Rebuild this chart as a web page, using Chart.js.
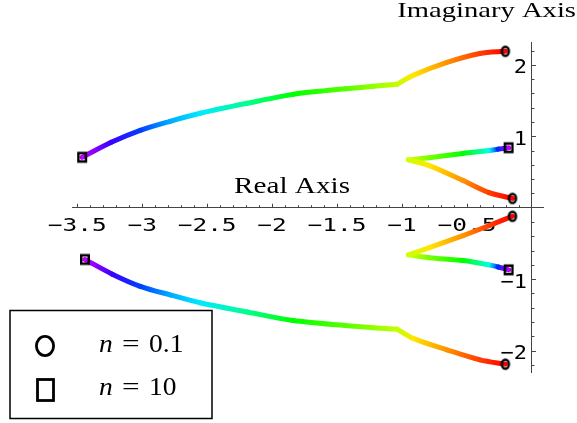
<!DOCTYPE html>
<html>
<head>
<meta charset="utf-8">
<title>Root locus</title>
<style>
  html, body { margin: 0; padding: 0; background: #fff; }
  #wrap { width: 577px; height: 423px; }
</style>
</head>
<body>
<div id="wrap"><canvas id="locus" width="577" height="423"></canvas></div>
<script src="https://cdn.jsdelivr.net/npm/chart.js@4.4.1/dist/chart.umd.min.js"></script>
<script>
// each branch is walked from n = 0.1 (circle) to n = 10 (square)
// k = position along the gain sweep (0 at n = 0.1, 1 at n = 10), used for the hue
const outerUpRe  = [-0.205, -0.40, -0.654, -0.915, -1.038, -1.223, -1.438, -1.838, -2.192, -2.554, -2.785, -3.015, -3.238, -3.462]
const outerUpIm  = [2.19, 2.16, 2.035, 1.853, 1.727, 1.699, 1.664, 1.587, 1.462, 1.322, 1.210, 1.084, 0.916, 0.706]
const outerLowRe = [-0.205, -0.40, -0.654, -0.915, -1.038, -1.223, -1.438, -1.838, -2.192, -2.554, -2.785, -3.015, -3.230, -3.440]
const outerLowIm = [-2.19, -2.13, -1.99, -1.83, -1.70, -1.68, -1.65, -1.58, -1.46, -1.33, -1.22, -1.10, -0.93, -0.725]
const outerK     = [0, 0.05, 0.12, 0.19, 0.26, 0.30, 0.35, 0.42, 0.54, 0.65, 0.70, 0.79, 0.89, 1]
const outerKink  = 4

const innerUpRe  = [-0.15, -0.33, -0.53, -0.79, -0.95, -0.79, -0.53, -0.33, -0.26, -0.18]
const innerUpIm  = [0.13, 0.21, 0.38, 0.59, 0.67, 0.70, 0.76, 0.80, 0.82, 0.84]
const innerLowRe = [-0.15, -0.33, -0.53, -0.79, -0.95, -0.79, -0.53, -0.33, -0.26, -0.18]
const innerLowIm = [-0.12, -0.25, -0.39, -0.56, -0.66, -0.70, -0.74, -0.80, -0.83, -0.87]
const innerK     = [0, 0.05, 0.12, 0.19, 0.25, 0.32, 0.42, 0.61, 0.81, 1]
const innerCusp  = 4

const xTickLabels = [-3.5, -3, -2.5, -2, -1.5, -1, -0.5]
const yTickLabels = [-2, -1, 1, 2]
const legendLabels = ['0.1', '10']

const hueOf = k => 'hsl(' + (285 * k) + ',100%,50%)'
const minus = v => (v < 0 ? '\u2212' : '') + Math.abs(v)

function pts(re, im, from, to) {
  let out = []
  for (let i = from; i <= to; i++) out.push({x: re[i], y: im[i]})
  return out
}

function piece(re, im, ks, from, to) {
  let kk = ks.slice(from, to + 1)
  return {
    data: pts(re, im, from, to),
    showLine: true,
    pointRadius: 0,
    borderWidth: 5,
    borderCapStyle: 'round',
    borderJoinStyle: 'round',
    tension: 0.3,
    order: 2,
    clip: false,
    segment: {
      borderColor: c => {
        let g = c.chart.ctx.createLinearGradient(c.p0.x, c.p0.y, c.p1.x, c.p1.y)
        g.addColorStop(0, hueOf(kk[c.p0DataIndex]))
        g.addColorStop(1, hueOf(kk[c.p1DataIndex]))
        return g
      }
    }
  }
}

function marker(shape) {
  let c = document.createElement('canvas')
  c.width = 16; c.height = 16
  let g = c.getContext('2d')
  g.strokeStyle = '#000'; g.lineWidth = 2.5
  if (shape === 'o') {
    g.beginPath(); g.ellipse(8, 8, 3.5, 4.6, 0, 0, 2 * Math.PI); g.stroke()
  } else {
    g.strokeRect(4.25, 3.75, 7.5, 8.5)
  }
  return c
}

function stretchText(ctx, txt, x, y, font, align, sx) {
  ctx.save()
  ctx.font = font
  ctx.textAlign = align
  ctx.textBaseline = 'alphabetic'
  ctx.fillStyle = '#000'
  ctx.translate(x, y)
  ctx.scale(sx, 1)
  ctx.fillText(txt, 0, 0)
  ctx.restore()
}

const frame = {
  id: 'frame',
  beforeDatasetsDraw(chart) {
    const ctx = chart.ctx, ax = chart.scales.x, ay = chart.scales.y
    const x0 = ax.getPixelForValue(0), y0 = ay.getPixelForValue(0)
    ctx.save()
    ctx.strokeStyle = '#444'
    ctx.lineWidth = 1
    ctx.beginPath()
    for (let i = -35; i <= -1; i++) {
      let px = Math.round(ax.getPixelForValue(i / 10)) + 0.5
      let len = i % 5 === 0 ? 4 : 2.5
      ctx.moveTo(px, y0); ctx.lineTo(px, y0 - len)
    }
    for (let i = -11; i <= 11; i++) {
      if (i === 0) continue
      let py = Math.round(ay.getPixelForValue(i / 5)) + 0.5
      let len = i % 5 === 0 ? 4 : 2.5
      ctx.moveTo(x0, py); ctx.lineTo(x0 + len, py)
    }
    ctx.stroke()
    ctx.restore()

    xTickLabels.forEach(v => {
      stretchText(ctx, minus(v), ax.getPixelForValue(v), y0 + 23, '18px "DejaVu Sans Mono"', 'center', 1.36)
    })
    yTickLabels.forEach(v => {
      stretchText(ctx, minus(v), x0 - 5, ay.getPixelForValue(v) + 8.5, '20px "DejaVu Sans Mono"', 'right', 1.1)
    })
    stretchText(ctx, 'Real Axis', 292, 193, '23px "Liberation Serif"', 'center', 1.27)
    stretchText(ctx, 'Imaginary Axis', 576, 17, '22px "Liberation Serif"', 'right', 1.3)
  },
  afterDatasetsDraw(chart) {
    const ctx = chart.ctx
    ctx.save()
    ctx.fillStyle = '#fff'
    ctx.strokeStyle = '#000'
    ctx.lineWidth = 1.5
    ctx.fillRect(10, 310.5, 202, 108)
    ctx.strokeRect(10, 310.5, 202, 108)
    ctx.lineWidth = 2.8
    ctx.beginPath(); ctx.ellipse(45, 346, 8.6, 9.6, 0, 0, 2 * Math.PI); ctx.stroke()
    ctx.strokeRect(37.5, 379.5, 16, 21)
    ctx.restore()
    const base = [352, 395]
    legendLabels.forEach((t, i) => {
      stretchText(ctx, 'n', 99, base[i], 'italic 25px "Liberation Serif"', 'left', 1.1)
      stretchText(ctx, '=', 122, base[i], '25px "Liberation Serif"', 'left', 1.25)
      stretchText(ctx, t, 149, base[i], '25px "Liberation Serif"', 'left', 1.1)
    })
  }
}

const circleImg = marker('o')
const squareImg = marker('s')
const ends = (arrs, idx) => arrs.map(a => ({x: a[0][idx < 0 ? a[0].length - 1 : idx], y: a[1][idx < 0 ? a[1].length - 1 : idx]}))
const branches = [[outerUpRe, outerUpIm], [outerLowRe, outerLowIm], [innerUpRe, innerUpIm], [innerLowRe, innerLowIm]]

const datasets = [
  {data: ends(branches, 0), pointStyle: circleImg, pointRadius: 6, order: 0, clip: false},
  {data: ends(branches, -1), pointStyle: squareImg, pointRadius: 6, order: 0, clip: false},
  piece(outerUpRe, outerUpIm, outerK, 0, outerKink),
  piece(outerUpRe, outerUpIm, outerK, outerKink, outerUpRe.length - 1),
  piece(outerLowRe, outerLowIm, outerK, 0, outerKink),
  piece(outerLowRe, outerLowIm, outerK, outerKink, outerLowRe.length - 1),
  piece(innerUpRe, innerUpIm, innerK, 0, innerCusp),
  piece(innerUpRe, innerUpIm, innerK, innerCusp, innerUpRe.length - 1),
  piece(innerLowRe, innerLowIm, innerK, 0, innerCusp),
  piece(innerLowRe, innerLowIm, innerK, innerCusp, innerLowRe.length - 1)
]

new Chart(document.getElementById('locus'), {
  type: 'scatter',
  data: {datasets: datasets},
  options: {
    responsive: false,
    animation: false,
    layout: {padding: {left: 72, right: 34, top: 42, bottom: 51}},
    plugins: {legend: {display: false}, tooltip: {enabled: false}},
    scales: {
      x: {
        type: 'linear', min: -3.54, max: 0.085, position: {y: 0},
        grid: {display: false}, ticks: {display: false},
        border: {display: true, color: '#444', width: 1}
      },
      y: {
        type: 'linear', min: -2.30, max: 2.32, position: {x: 0},
        grid: {display: false}, ticks: {display: false},
        border: {display: true, color: '#444', width: 1}
      }
    }
  },
  plugins: [frame]
})
</script>
</body>
</html>
